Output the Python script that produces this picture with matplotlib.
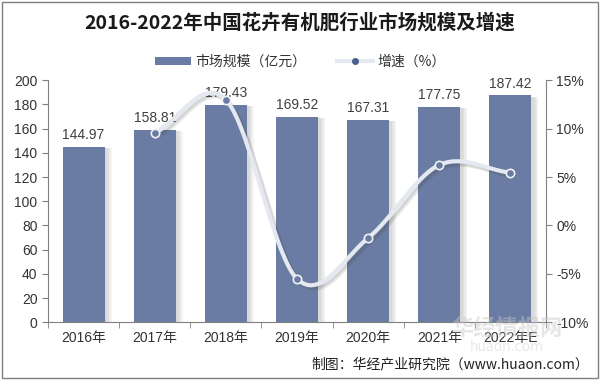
import numpy as np
import matplotlib
matplotlib.use("Agg")
import matplotlib.pyplot as plt
from matplotlib import patheffects as pe
from matplotlib.patches import Rectangle
from matplotlib.lines import Line2D
from matplotlib.patches import Patch

plt.rcParams['font.family'] = ['Noto Sans CJK SC', 'DejaVu Sans']
NUMFONT = ['Liberation Sans', 'Noto Sans CJK SC', 'DejaVu Sans']

years = ['2016年', '2017年', '2018年', '2019年', '2020年', '2021年', '2022年E']
market = [144.97, 158.81, 179.43, 169.52, 167.31, 177.75, 187.42]
growth = [None, 9.55, 12.98, -5.52, -1.30, 6.24, 5.44]

bar_color = '#6a7ca3'

fig = plt.figure(figsize=(6, 3.8), dpi=100)
fig.patches.append(Rectangle((0.004, 0.004), 0.992, 0.992, transform=fig.transFigure,
                             fill=False, edgecolor='#7f7f7f', linewidth=1.0))
ax = fig.add_axes([0.08, 0.152, 0.83, 0.637])
x = np.arange(len(years))
bar_shadow = [pe.SimplePatchShadow(offset=(o, -1), shadow_rgbFace='#707070', alpha=0.07) for o in (5, 4, 3, 2)]
ax.bar(x, market, width=0.59, color=bar_color, zorder=2, path_effects=bar_shadow + [pe.Normal()])
ax.set_xlim(-0.5, len(years) - 0.5)
ax.set_ylim(0, 200)
ax.set_yticks(range(0, 201, 20))
for xi, v in zip(x, market):
    ax.text(xi, v + 4, f'{v:.2f}', ha='center', va='bottom', fontsize=10, color='#404040',
            family=NUMFONT, zorder=5)

for s in ['top', 'right']:
    ax.spines[s].set_visible(False)
for s in ['left', 'bottom']:
    ax.spines[s].set_color('#808080')
ax.tick_params(axis='y', colors='#808080', labelcolor='#333333', labelsize=10, length=4)
ax.set_xticks(x)
ax.set_xticklabels(years, fontsize=10, color='#333333', family=NUMFONT)
ax.tick_params(axis='x', length=0, pad=6)
ax.set_xticks(np.arange(-0.5, len(years), 1), minor=True)
ax.tick_params(axis='x', which='minor', length=4, color='#808080')
for lab in ax.get_yticklabels():
    lab.set_family(NUMFONT)

ax2 = ax.twinx()
ax2.set_ylim(-10, 15)
ax2.set_yticks(range(-10, 16, 5))
ax2.set_yticklabels([f'{t}%' for t in range(-10, 16, 5)], family=NUMFONT)
for s in ['top', 'left', 'bottom']:
    ax2.spines[s].set_visible(False)
ax2.spines['right'].set_color('#808080')
ax2.tick_params(axis='y', colors='#808080', labelcolor='#333333', labelsize=10, length=4)

# smooth curve (Catmull-Rom) through growth points
gx = np.array([xi for xi, g in zip(x, growth) if g is not None], dtype=float)
gy = np.array([g for g in growth if g is not None], dtype=float)
P = np.column_stack([gx, gy])
pts = [P[0] - (P[1] - P[0])] + list(P) + [P[-1] + (P[-1] - P[-2])]
curve = []
for i in range(1, len(pts) - 2):
    p0, p1, p2, p3 = pts[i - 1], pts[i], pts[i + 1], pts[i + 2]
    c1 = p1 + (p2 - p0) / 6
    c2 = p2 - (p3 - p1) / 6
    t = np.linspace(0, 1, 30)[:, None]
    seg = (1 - t) ** 3 * p1 + 3 * (1 - t) ** 2 * t * c1 + 3 * (1 - t) * t ** 2 * c2 + t ** 3 * p2
    curve.append(seg if i == 1 else seg[1:])
curve = np.vstack(curve)
line_shadow = [pe.SimpleLineShadow(offset=(o, -o), shadow_color='#404040', alpha=0.12) for o in (2.5, 1.5)]
ax2.plot(curve[:, 0], curve[:, 1], color='#e4e8f0', linewidth=3, zorder=3,
         path_effects=line_shadow + [pe.Normal()])
ax2.plot(gx, gy, linestyle='none', marker='o', markersize=6, markerfacecolor=bar_color,
         markeredgecolor='#eef1f6', markeredgewidth=1.2, zorder=4)

handles = [Patch(facecolor=bar_color, edgecolor='none'),
           Line2D([0], [0], color='#e4e8f0', linewidth=3, marker='o', markersize=4,
                  markerfacecolor='#4a5f8c', markeredgecolor='#4a5f8c')]
fig.legend(handles, ['市场规模（亿元）', '增速（%）'], loc='center', bbox_to_anchor=(0.5, 0.837),
           ncol=2, frameon=False, fontsize=10, handlelength=2.6, handleheight=0.6,
           columnspacing=2.2, handletextpad=0.3, labelcolor='#333333')

fig.text(0.5, 0.94, '2016-2022年中国花卉有机肥行业市场规模及增速', ha='center', va='center',
         fontsize=14, fontweight='bold', color='#1a1a1a')

fig.text(0.845, 0.135, '华经情报网', ha='center', va='center', fontsize=16, fontweight='bold',
         color='#c8c8c8', alpha=0.45, zorder=10)
fig.text(0.845, 0.088, 'huaon.com', ha='center', va='center', fontsize=10,
         color='#d0d0d0', alpha=0.5, zorder=10)
fig.text(0.982, 0.04, '制图：华经产业研究院（www.huaon.com）', ha='right', va='center',
         fontsize=10, color='#222222', zorder=11)

fig.savefig('out.png', dpi=100)
